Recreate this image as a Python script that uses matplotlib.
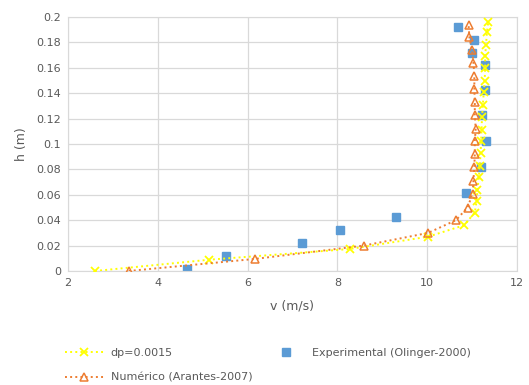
import matplotlib.pyplot as plt

# dp=0.0015 (simulation)
dp_v = [2.6, 5.15, 8.27, 10.02, 10.82, 11.06, 11.10, 11.12, 11.15, 11.17, 11.19,
        11.20, 11.21, 11.22, 11.24, 11.26, 11.28, 11.29, 11.29, 11.31, 11.33, 11.36]
dp_h = [0.0, 0.0089, 0.0173, 0.027, 0.036, 0.046, 0.055, 0.064, 0.074, 0.083, 0.093,
        0.102, 0.111, 0.121, 0.131, 0.141, 0.150, 0.160, 0.169, 0.178, 0.188, 0.196]

# Numérico (Arantes-2007)
num_v = [3.35, 6.16, 8.59, 10.02, 10.64, 10.90, 11.01, 11.03, 11.05, 11.06,
         11.06, 11.08, 11.06, 11.06, 11.05, 11.05, 11.03, 11.00, 10.94, 10.92]
num_h = [0.0, 0.0095, 0.020, 0.030, 0.040, 0.050, 0.061, 0.071, 0.082, 0.092,
         0.102, 0.112, 0.123, 0.133, 0.143, 0.1535, 0.164, 0.174, 0.184, 0.194]

# Experimental (Olinger-2000)
exp_v = [4.64, 5.53, 7.22, 8.06, 9.30, 10.87, 11.20, 11.30, 11.23, 11.28, 11.28, 11.00, 11.04, 10.69]
exp_h = [0.0016, 0.0116, 0.022, 0.032, 0.0423, 0.0617, 0.082, 0.102, 0.1225, 0.1425,
         0.162, 0.172, 0.182, 0.192]

grey = '#595959'
fig = plt.figure(figsize=(5.29, 3.85), dpi=100)
ax = fig.add_axes([68/529, 1 - 271/385, (517-68)/529, (271-17)/385])

l1, = ax.plot(dp_v, dp_h, ':', color='#FFFF00', lw=1.4, marker='x', ms=6, mew=1.3,
              label='dp=0.0015', zorder=3)
l2, = ax.plot(num_v, num_h, ':', color='#ED7D31', lw=1.4, marker='^', ms=6, mew=1.1,
              mfc='none', label='Numérico (Arantes-2007)', zorder=4)
l3, = ax.plot(exp_v, exp_h, 's', color='#5B9BD5', ms=5.5, ls='none',
              label='Experimental (Olinger-2000)', zorder=2)

ax.set_xlim(2, 12)
ax.set_ylim(0, 0.2)
ax.set_xticks([2, 4, 6, 8, 10, 12])
ax.set_yticks([0, 0.02, 0.04, 0.06, 0.08, 0.1, 0.12, 0.14, 0.16, 0.18, 0.2])
ax.set_yticklabels(['0', '0.02', '0.04', '0.06', '0.08', '0.1', '0.12', '0.14', '0.16', '0.18', '0.2'])
ax.grid(True, color='#d9d9d9', lw=0.9)
ax.set_axisbelow(True)
for s in ax.spines.values():
    s.set_color('#d9d9d9')
ax.tick_params(length=0, labelsize=8, colors=grey, pad=5)
ax.set_xlabel('v (m/s)', fontsize=9, color=grey, labelpad=8)
ax.set_ylabel('h (m)', fontsize=9, color=grey, labelpad=6)

fig.legend([l1, l2, l3], [l1.get_label(), l2.get_label(), l3.get_label()],
           loc='upper left', bbox_to_anchor=(55/529, 1 - 338/385), ncol=2,
           frameon=False, fontsize=8, labelcolor=grey, columnspacing=1.3,
           handlelength=3.5, labelspacing=1.35, handletextpad=0.6)

fig.savefig('out.png', dpi=100)
